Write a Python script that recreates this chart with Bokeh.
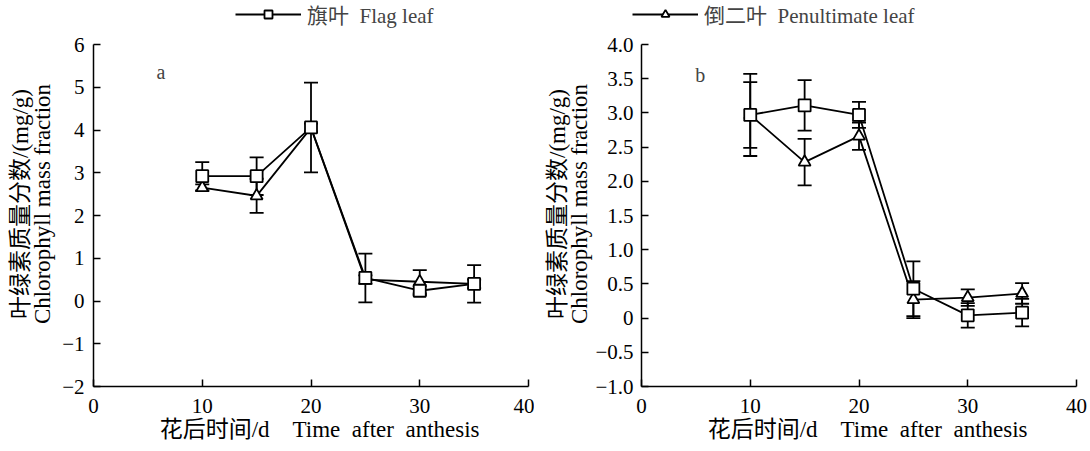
from bokeh.plotting import figure
from bokeh.models import (ColumnDataSource, Whisker, TeeHead, Legend, LegendItem,
                          Label, FixedTicker, Range1d)
from bokeh.layouts import row, column
from bokeh.embed import file_html
from bokeh.resources import INLINE

# ---- data ----
days = [10, 15, 20, 25, 30, 35]

# panel a
a_flag = [2.92, 2.92, 4.06, 0.54, 0.24, 0.40]
a_flag_err = [0.33, 0.44, 1.05, 0.57, 0.10, 0.44]
a_pen = [2.65, 2.46, 4.05, 0.50, 0.45, 0.40]
a_pen_err = [0.08, 0.40, 0.10, 0.10, 0.27, 0.10]

# panel b
b_flag = [2.97, 3.11, 2.97, 0.43, 0.04, 0.08]
b_flag_err = [0.60, 0.37, 0.19, 0.40, 0.18, 0.20]
b_pen = [2.97, 2.28, 2.66, 0.27, 0.30, 0.36]
b_pen_err = [0.48, 0.34, 0.20, 0.27, 0.12, 0.15]

x_ticks = [0, 10, 20, 30, 40]
a_y_ticks = [-2, -1, 0, 1, 2, 3, 4, 5, 6]
a_y_labels = ["−2", "−1", "0", "1", "2", "3", "4", "5", "6"]
b_y_ticks = [-1.0, -0.5, 0.0, 0.5, 1.0, 1.5, 2.0, 2.5, 3.0, 3.5, 4.0]
b_y_labels = ["−1.0", "−0.5", "0", "0.5", "1.0", "1.5", "2.0", "2.5", "3.0", "3.5", "4.0"]

NB = "\u00a0"
flag_name = "旗叶" + NB * 2 + "Flag leaf"
pen_name = "倒二叶" + NB * 2 + "Penultimate leaf"
y_title = (NB * 4 + "叶绿素质量分数/(mg/g)\n" + NB * 4 +
           "Chlorophyll" + NB + "mass" + NB + "fraction")
x_title = NB * 3 + "花后时间/d" + NB * 4 + "Time" + NB * 2 + "after" + NB * 2 + "anthesis"

FONT = "Liberation Serif, Noto Sans CJK SC"
TICK_FS = "21px"
TITLE_FS = "23px"


def key(v):
    return int(v) if float(v).is_integer() else v


def panel(flag, flag_err, pen, pen_err, y_rng, yt, yl, letter, letter_xy,
          left, right, ylab_standoff, tick_standoff):
    p = figure(frame_width=435, frame_height=342, x_range=Range1d(0, 40),
               y_range=Range1d(*y_rng), output_backend="svg", toolbar_location=None,
               min_border_left=left, min_border_right=right, min_border_top=14,
               min_border_bottom=65)
    p.outline_line_color = None
    p.grid.visible = False
    for ax in (p.xaxis[0], p.yaxis[0]):
        ax.axis_line_width = 1.5
        ax.major_tick_line_width = 1.5
        ax.major_tick_in = 7
        ax.major_tick_out = 0
        ax.minor_tick_line_color = None
        ax.major_label_text_font = FONT
        ax.major_label_text_font_size = TICK_FS
        ax.major_label_text_color = "black"
        ax.axis_label_text_font = FONT
        ax.axis_label_text_font_size = TITLE_FS
        ax.axis_label_text_font_style = "normal"
        ax.axis_label_text_color = "black"
        ax.axis_label_text_line_height = 0.9
    p.xaxis.ticker = FixedTicker(ticks=x_ticks)
    p.yaxis.ticker = FixedTicker(ticks=yt)
    p.yaxis.major_label_overrides = {key(t): l for t, l in zip(yt, yl)}
    p.xaxis.axis_label = x_title
    p.yaxis.axis_label = y_title
    p.xaxis.major_label_standoff = 12
    p.yaxis.major_label_standoff = tick_standoff
    p.xaxis.axis_label_standoff = 1
    p.yaxis.axis_label_standoff = ylab_standoff

    for vals, errs, marker in ((pen, pen_err, "triangle"), (flag, flag_err, "square")):
        src = ColumnDataSource(dict(x=days, y=vals,
                                    upper=[v + e for v, e in zip(vals, errs)],
                                    lower=[v - e for v, e in zip(vals, errs)]))
        w = Whisker(source=src, base="x", upper="upper", lower="lower",
                    line_color="black", line_width=1.8,
                    upper_head=TeeHead(size=14, line_width=1.8, line_color="black"),
                    lower_head=TeeHead(size=14, line_width=1.8, line_color="black"))
        p.add_layout(w)
        p.line("x", "y", source=src, line_color="black", line_width=1.8)
        p.scatter("x", "y", source=src, marker=marker, size=12,
                  fill_color="white", line_color="black", line_width=1.8)

    lab = Label(x=letter_xy[0], y=letter_xy[1], text=letter, text_font=FONT,
                text_font_size="20px", text_align="center", text_baseline="middle")
    p.add_layout(lab)
    return p


pa = panel(a_flag, a_flag_err, a_pen, a_pen_err, (-2, 6), a_y_ticks, a_y_labels,
           "a", (6.2, 5.35), 93, 6, 4, 9)
pb = panel(b_flag, b_flag_err, b_pen, b_pen_err, (-1, 4), b_y_ticks, b_y_labels,
           "b", (5.4, 3.55), 107, 14, 0, 8)

# legend strip above the two panels (its renderers fall outside its own range)
lg = figure(width=1090, height=30, x_range=Range1d(100, 101), y_range=Range1d(100, 101),
            output_backend="svg", toolbar_location=None, x_axis_type=None,
            y_axis_type=None, min_border=0)
lg.outline_line_color = None
lg.grid.visible = False
ref_src = ColumnDataSource(dict(x=days, y=a_flag))
l1 = lg.line("x", "y", source=ref_src, line_color="black", line_width=1.8)
s1 = lg.scatter("x", "y", source=ref_src, marker="square", size=12,
                fill_color="white", line_color="black", line_width=1.8)
s2 = lg.scatter("x", "y", source=ref_src, marker="triangle", size=12,
                fill_color="white", line_color="black", line_width=1.8)


def mk_legend(label, rends, xpos):
    return Legend(items=[LegendItem(label=label, renderers=rends)],
                  location=(xpos, 1), orientation="horizontal",
                  border_line_color=None, background_fill_alpha=0,
                  glyph_width=66, glyph_height=20, label_standoff=6,
                  label_height=20, label_text_font=FONT,
                  label_text_font_size="21px", padding=0, margin=0)


lg.add_layout(mk_legend(flag_name, [l1, s1], 235))
lg.add_layout(mk_legend(pen_name, [l1, s2], 632))

layout = column(lg, row(pa, pb), spacing=0)
open("out.html", "w").write(file_html(layout, INLINE))
